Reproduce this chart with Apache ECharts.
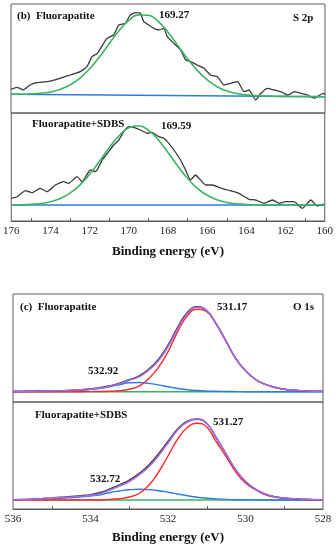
<!DOCTYPE html>
<html><head><meta charset="utf-8">
<script src="https://cdn.jsdelivr.net/npm/echarts@6/dist/echarts.min.js"></script>
<style>html,body{margin:0;padding:0;background:#fff}#c{width:336px;height:550px}</style>
</head><body><div id="c"></div>
<script>
// ---------- S 2p (panel b) ----------
const sAxis = { min: 160, max: 176, interval: 2 };
const sTickLabels = [176,174,172,170,168,166,164,162,160];
const sRawTopE = [176,175.7,175.37,175.03,174.69,174.18,173.5,172.98,172.47,172.13,171.87,171.6,171.28,171.1,170.77,170.51,170.17,169.92,169.66,169.4,169.24,168.98,168.72,168.47,168.21,168.04,167.7,167.36,167.1,166.85,166.51,166.17,165.83,165.48,165.15,164.8,164.46,164.12,163.87,163.53,163.27,162.93,162.59,162.25,161.9,161.57,161.23,160.88,160.55,160.1,160];
const sRawTopV = [5.7,7.7,5,10,12.3,13.3,16.7,20,23.3,28.3,38.3,41.7,51.7,56.7,60,70,71.7,80,82.3,81.7,73.3,70,66.7,65,66.7,58.3,51.7,45,35,33.3,30,26.7,20,18.3,10,11.7,13.3,3.3,5,-5,1.7,6.7,5,3.3,0,3.3,1.7,0,-3.3,1.7,0.5];
const sRawBotE = [176,175.7,175.28,174.94,174.52,174.18,173.75,173.33,173.07,172.64,172.39,171.96,171.7,171.36,171.03,170.77,170.51,170.26,170,169.75,169.4,169.06,168.81,168.47,168.21,167.96,167.7,167.36,167.1,166.85,166.6,166.34,166.08,165.74,165.4,164.97,164.63,164.29,163.87,163.53,163.1,162.67,162.33,161.99,161.57,161.14,160.71,160.37,160.03];
const sRawBotV = [6.7,8.3,14.3,12.3,16.7,13.3,20,23.3,21.7,28.3,23.3,35,33.3,45,53.3,60,65,73.3,78.3,77.7,75,71.7,72.7,68.3,66.7,61.7,55,45,35,25,30,25,20,20,17.7,15,13.3,10.7,5.7,5,1.7,5,1.7,3.3,3.3,-3.3,5,-1,1];
const sFitE = [176,175.5,175,174.5,174,173.5,173,172.5,172,171.5,171,170.5,170,169.5,169,168.5,168,167.5,167,166.5,166,165.5,165,164.5,164,163.5,163,162.5,162,161.5,161,160.5,160];
const sFitTop = [0.8,0.8,1.1,1.7,3.0,5.6,10.0,16.7,26.0,37.9,51.2,64.2,74.5,80.1,79.8,73.6,62.8,49.6,36.2,24.4,15.1,8.3,4.0,1.5,0.1,-0.7,-1.05,-1.3,-1.4,-1.48,-1.55,-1.63,-1.7];
const sFitBot = [0.1,0.3,0.7,1.5,3.3,6.5,11.9,19.9,30.7,43.7,57.3,69.3,77.2,79.2,74.9,65.3,52.5,38.9,26.5,16.7,9.7,5.2,2.5,1.2,0.5,0.2,0.1,0,0,0,0,0,0];
const sBaseE = [176,160];
const sBaseTop = [0.7,-1.7];
const sBaseBot = [0,0];

// ---------- O 1s (panel c) ----------
const oAxis = { min: 528, max: 536, interval: 2 };
const oTickLabels = [536,534,532,530,528];
const oE = [536,535.75,535.5,535.25,535,534.75,534.5,534.25,534,533.75,533.5,533.25,533,532.75,532.5,532.25,532,531.75,531.5,531.25,531,530.75,530.5,530.25,530,529.75,529.5,529.25,529,528.75,528.5,528.25,528];
const oRawTop = [0.6,0.6,0.7,0.8,0.9,1.1,1.5,2.0,2.9,4.2,6.0,8.5,12.0,15.8,22.5,32.3,46.5,64.5,79.3,85,81,67.5,50.5,33,21,12.5,7.5,4.5,2.4,1.4,0.9,0.6,0.5];
const oEnvTop = [0.5,0.5,0.6,0.7,0.8,1.0,1.3,1.8,2.6,3.8,5.5,8,11.5,15,21.5,31,45,63,78,84.5,81,67.5,50.5,33,21,12.5,7.5,4.5,2.4,1.4,0.9,0.6,0.5];
const oRedTop = [0,0,0,0,0,0,0,0,0.1,0.2,0.4,1.0,2.5,5.5,13,24,40,60,76,82.5,80,67,50,33,21,12.5,7.5,4.5,2.4,1.4,0.8,0.5,0.3];
const oBlueTop = [0,0,0.1,0.2,0.3,0.5,0.9,1.4,2.3,3.4,5,7,8.9,9.2,8.3,6.8,5,3.2,2,1.2,0.7,0.4,0.2,0.1,0,0,0,0,0,0,0,0,0];
const oRawBot = [0.4,0.6,1,1.5,2.1,2.8,3.5,4.4,5.4,7.5,11.0,15.2,19.8,26.5,34.8,46,58.8,71,78.8,81,76.5,62,46,30,18.5,11,6,3.3,2,1.2,0.7,0.4,0.3];
const oEnvBot = [0.3,0.5,0.8,1.3,1.8,2.4,3,3.8,4.6,6.5,10,14,18.5,25,33,44,57,70,78,80.5,76.5,62,46,30,18.5,11,6,3.3,2,1.2,0.7,0.4,0.3];
const oRedBot = [0,0,0,0,0,0,0,0,0,0,0.5,1.3,3,6.5,14.5,27.5,44,61,72.5,76.7,73,58,43.5,28,17,10.5,5.5,3,1.8,1,0.6,0.3,0.2];
const oBlueBot = [0.1,0.2,0.4,0.7,1.1,1.6,2.3,3.1,4,5.2,7.5,9,10.2,10.7,10.4,9.3,7.8,6,4.3,2.8,1.8,1.1,0.6,0.3,0.2,0.1,0,0,0,0,0,0,0];
const oBaseE = [536,528];
const oBaseV = [0,0];

const C = { raw:'#3a3a3a', green:'#3cb464', blue:'#2b7be3', red:'#ff2a2a', purple:'#a56ae2', axis:'#5a5a5a', text:'#111' };
const zip = (xs, ys) => xs.map((x, i) => [x, ys[i]]);

function line(idx, xs, ys, color, width, smooth) {
  return { type:'line', xAxisIndex:idx, yAxisIndex:idx, data:zip(xs, ys), showSymbol:false, smooth:smooth,
           lineStyle:{color:color, width:width}, itemStyle:{color:color}, silent:true, animation:false };
}

const grids = [
  {left:11, top:4, width:314, height:109},
  {left:11, top:113, width:314, height:108},
  {left:13, top:294, width:310, height:108},
  {left:13, top:402, width:310, height:107}
].map(g => Object.assign({show:true, borderColor:C.axis, borderWidth:1, backgroundColor:'transparent'}, g));

const yRanges = [[-18,91],[-16,92],[-10.3,97.7],[-9,98]];

function xAx(idx, ax, labels, bottom) {
  const base = {gridIndex:idx, type:'value', min:ax.min, max:ax.max, interval:ax.interval, inverse:true};
  if (!bottom) return Object.assign(base, {show:false});
  return Object.assign(base, {
    axisLine:{show:true, onZero:false, lineStyle:{color:C.axis, width:1}},
    axisTick:{show:false, inside:true},
    minorTick:{show:true, splitNumber:2, length:3, lineStyle:{color:C.axis, width:1}},
    splitLine:{show:false},
    axisLabel:{fontFamily:'Liberation Serif', fontSize:11, color:'#222', margin:5, showMinLabel:true, showMaxLabel:true,
               formatter: v => (labels.indexOf(v) >= 0 ? String(v) : '')}
  });
}

const bold = s => 'bold ' + s + 'px "Liberation Serif"';
function txt(t, x, y, size, align) {
  return {type:'text', x:x, y:y, silent:true, style:{text:t, font:bold(size), fill:C.text, align:align||'left', verticalAlign:'middle'}};
}

const option = {
  animation:false,
  backgroundColor:'#fff',
  grid: grids,
  xAxis: [xAx(0,sAxis,sTickLabels,false), xAx(1,sAxis,sTickLabels,true), xAx(2,oAxis,oTickLabels,false), xAx(3,oAxis,oTickLabels,true)],
  yAxis: yRanges.map((r,i) => ({gridIndex:i, type:'value', min:r[0], max:r[1], show:false})),
  series: [
    line(0, sBaseE, sBaseTop, C.blue, 1.6, false),
    line(0, sRawTopE, sRawTopV, C.raw, 1.3, 0.15),
    line(0, sFitE, sFitTop, C.green, 1.6, true),
    line(1, sBaseE, sBaseBot, C.blue, 1.6, false),
    line(1, sRawBotE, sRawBotV, C.raw, 1.3, 0.15),
    line(1, sFitE, sFitBot, C.green, 1.6, true),
    line(2, oBaseE, oBaseV, C.green, 1.6, false),
    line(2, oE, oBlueTop, C.blue, 1.4, true),
    line(2, oE, oRedTop, C.red, 1.4, true),
    line(2, oE, oRawTop, C.raw, 1.4, true),
    line(2, oE, oEnvTop, C.purple, 1.6, true),
    line(3, oBaseE, oBaseV, C.green, 1.6, false),
    line(3, oE, oBlueBot, C.blue, 1.4, true),
    line(3, oE, oRedBot, C.red, 1.4, true),
    line(3, oE, oRawBot, C.raw, 1.4, true),
    line(3, oE, oEnvBot, C.purple, 1.6, true)
  ],
  graphic: [
    txt('(b)  Fluorapatite', 17, 16, 11),
    txt('169.27', 159, 15, 11),
    txt('S 2p', 293, 18, 11),
    txt('Fluorapatite+SDBS', 32, 124, 11),
    txt('169.59', 161, 126, 11),
    txt('Binding energy (eV)', 168, 252, 13, 'center'),
    txt('(c)  Fluorapatite', 20, 307, 11),
    txt('531.17', 217, 307, 11),
    txt('O 1s', 293, 307, 11),
    txt('532.92', 88, 371, 11),
    txt('Fluorapatite+SDBS', 35, 415, 11),
    txt('531.27', 213, 422, 11),
    txt('532.72', 90, 479, 11),
    txt('Binding energy (eV)', 168, 538, 13, 'center')
  ]
};
echarts.init(document.getElementById('c'), null, {renderer:'canvas'}).setOption(option);
</script></body></html>
